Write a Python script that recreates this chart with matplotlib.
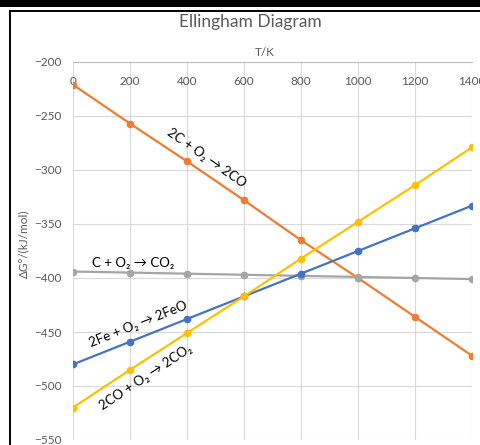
import numpy as np
import matplotlib
matplotlib.use("Agg")
import matplotlib.pyplot as plt
from matplotlib.lines import Line2D
from matplotlib.patches import Rectangle

plt.rcParams['font.family'] = ['Lato', 'Noto Sans', 'DejaVu Sans']

# temperatures (K) and standard free energies (kJ/mol)
temps = [0, 200, 400, 600, 800, 1000, 1200, 1400]
g_2c_2co = [-221, -257, -292, -328, -365, -400, -436, -472]
g_c_co2 = [-394, -395, -396, -397, -398, -399, -400, -401]
g_fe_feo = [-480, -459, -438, -417, -396, -375, -354, -333]
g_co_co2 = [-520, -485, -451, -417, -382, -348, -314, -279]

series = [
    (g_2c_2co, '#ED7D31'),
    (g_c_co2, '#A5A5A5'),
    (g_fe_feo, '#4472C4'),
    (g_co_co2, '#FFC000'),
]

W, H = 480, 445
fig = plt.figure(figsize=(W / 100, H / 100), dpi=100)
ax = fig.add_axes([73 / W, 1 - 440 / H, (472 - 73) / W, (440 - 62) / H])

for vals, col in series:
    ax.plot(temps, vals, color=col, lw=1.6, marker='o', ms=4.5, zorder=3)

ax.set_xlim(0, 1400)
ax.set_ylim(-550, -200)
ax.set_xticks(np.arange(0, 1401, 200))
ax.set_yticks(np.arange(-550, -199, 50))
ax.grid(True, color='#D9D9D9', lw=0.8)
ax.set_axisbelow(True)

for s in ['left', 'right', 'bottom']:
    ax.spines[s].set_visible(False)
ax.spines['top'].set_color('#BFBFBF')
ax.spines['top'].set_linewidth(0.8)

ax.tick_params(axis='x', top=True, labeltop=True, bottom=False, labelbottom=False,
               length=0, pad=-18, labelsize=8.5, labelcolor='#595959')
ax.tick_params(axis='y', length=0, pad=8, labelsize=8.5, labelcolor='#595959')

ax.set_xlabel('T/K', fontsize=8.5, color='#595959')
ax.xaxis.set_label_position('top')
ax.xaxis.set_label_coords(0.48, 1.01)
ax.xaxis.label.set_va('bottom')
ax.set_ylabel('ΔG°/(kJ/mol)', fontsize=8.5, color='#595959')
ax.yaxis.set_label_coords(-0.11, 0.52)

fig.text(250 / W, 1 - 22 / H, 'Ellingham Diagram', ha='center', va='center',
         fontsize=12.5, color='#595959')

# reaction labels along the lines
def line_label(x, y, txt, vals):
    i = temps.index(600)
    ang = np.degrees(np.arctan2(vals[i + 1] - vals[i], temps[i + 1] - temps[i]))
    ax.text(x, y, txt, rotation=ang, transform_rotates_text=True,
            rotation_mode='anchor', ha='center', va='center', fontsize=9.5,
            color='black', zorder=4)

line_label(470, -289, '2C + O₂ → 2CO', g_2c_2co)
line_label(228, -443, '2Fe + O₂ → 2FeO', g_fe_feo)
line_label(256, -492, '2CO + O₂ → 2CO₂', g_co_co2)
ax.text(210, -386, 'C + O₂ → CO₂', ha='center', va='center', fontsize=9.5,
        color='black', zorder=4)

# screenshot frame
fig.add_artist(Rectangle((0, 1 - 7 / H), 1, 7 / H, transform=fig.transFigure,
                         color='black', lw=0))
fig.add_artist(Line2D([9.5 / W, 1], [1 - 10.5 / H, 1 - 10.5 / H],
                      transform=fig.transFigure, color='black', lw=1.4))
fig.add_artist(Line2D([9.5 / W, 9.5 / W], [1 - 10.5 / H, 0],
                      transform=fig.transFigure, color='black', lw=1.4))

fig.savefig('out.png', dpi=100)
